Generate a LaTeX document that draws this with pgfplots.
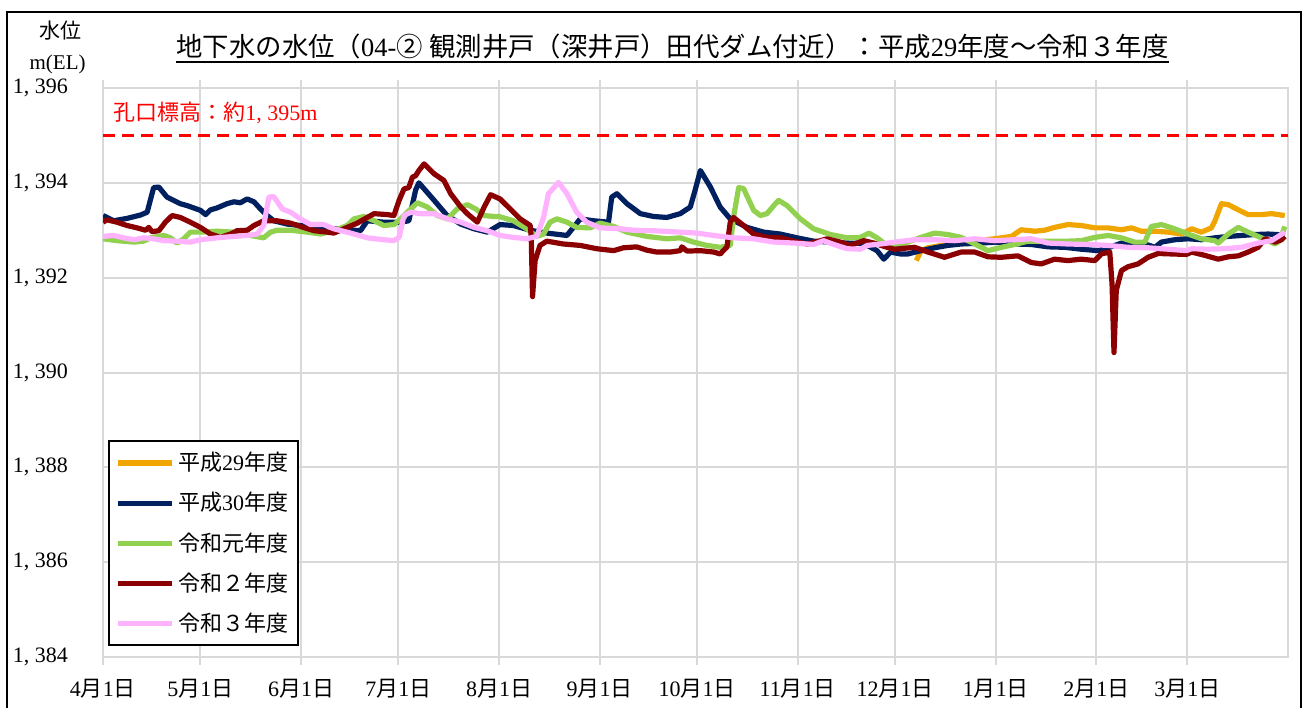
\documentclass[border=0pt]{standalone}
\usepackage{pgfplots}
\pgfplotsset{compat=1.18}
\usepackage{fontspec}
\setmainfont{Liberation Serif}
\newfontfamily\jp{Noto Sans CJK JP}
\definecolor{gridgray}{RGB}{217,217,217}
\definecolor{cOrange}{RGB}{240,165,0}
\definecolor{cNavy}{RGB}{0,32,96}
\definecolor{cGreen}{RGB}{146,208,80}
\definecolor{cDred}{RGB}{139,0,0}
\definecolor{cPink}{RGB}{255,179,255}
\newcommand{\md}[1]{#1{\jp 月}1{\jp 日}}
\begin{document}
\begin{tikzpicture}
\useasboundingbox (0,0) rectangle (656pt,353.5pt);
\draw[line width=1pt] (3.5pt,-5pt) -- (3.5pt,347.5pt) -- (650.5pt,347.5pt) -- (650.5pt,-5pt);
\node[anchor=base, inner sep=0pt, font=\fontsize{13.2pt}{15pt}\selectfont] (t) at (336.25pt,325pt)
 {{\jp 地下水の水位（}04-{\jp ②}\ {\jp 観測井戸（深井戸）田代ダム付近）：平成}29{\jp 年度～令和３年度}};
\draw[line width=0.8pt] ([yshift=-2.5pt]t.base west) -- ([yshift=-2.5pt]t.base east);
\node[anchor=east, inner sep=0pt, font=\fontsize{10.5pt}{12pt}\selectfont] at (41pt,338pt) {\jp 水位};
\node[anchor=east, inner sep=0pt, font=\fontsize{10.5pt}{12pt}\selectfont] at (43pt,321.5pt) {m(EL)};
\begin{axis}[
 at={(51.5pt,25pt)}, anchor=south west,
 scale only axis, width=592.5pt, height=284.5pt,
 xmin=0, xmax=365, ymin=1384, ymax=1396,
 xtick={0,30,61,91,122,153,183,214,244,275,306,334},
 xticklabels={\md{4},\md{5},\md{6},\md{7},\md{8},\md{9},\md{10},\md{11},\md{12},\md{1},\md{2},\md{3}},
 ytick={1384,1386,1388,1390,1392,1394,1396},
 yticklabels={{1,\ 384},{1,\ 386},{1,\ 388},{1,\ 390},{1,\ 392},{1,\ 394},{1,\ 396}},
 grid=major,
 major grid style={draw=gridgray, line width=1pt},
 axis line style={draw=gridgray, line width=1pt},
 xtick style={draw=gridgray, line width=1pt},
 ytick style={draw=none},
 tick align=outside, major tick length=4pt,
 x tick label style={font=\fontsize{11pt}{12pt}\selectfont, yshift=-3.5pt},
 y tick label style={font=\fontsize{11pt}{12pt}\selectfont, xshift=-10pt},
 legend style={at={(0.0042,0.381)}, anchor=north west, draw=black, line width=1pt,
   font=\fontsize{11pt}{13pt}\selectfont, inner xsep=3pt, inner ysep=3.5pt, row sep=5.3pt},
 legend cell align=left,
 legend image code/.code={\draw[#1] (0pt,0pt) -- (27pt,0pt);},
 every axis plot/.append style={line width=2.6pt, line join=round},
]
\addplot[cOrange] coordinates {(250.5,1392.36)(252,1392.57)(254.1,1392.63)(258.2,1392.68)(263.3,1392.73)(268.5,1392.78)(274.6,1392.82)(279.8,1392.87)(282.8,1393.01)(287,1392.98)(290,1393.0)(293.1,1393.06)(297.2,1393.12)(301.3,1393.1)(305.5,1393.05)(309.6,1393.05)(313.7,1393.01)(316.8,1393.05)(319.8,1392.98)(324,1392.98)(328.1,1392.96)(332.2,1392.92)(335.3,1393.03)(338.3,1392.96)(341.4,1393.05)(342.5,1393.2)(344.5,1393.56)(346.6,1393.54)(349.7,1393.43)(352.7,1393.33)(356.8,1393.33)(359.9,1393.35)(364,1393.31)};
\addlegendentry{{\jp 平成}29{\jp 年度}}
\addplot[cNavy] coordinates {(0,1393.31)(3.3,1393.2)(7.4,1393.25)(11.5,1393.32)(13.6,1393.38)(15.6,1393.9)(17.2,1393.91)(19.7,1393.7)(23.8,1393.56)(25.9,1393.52)(30,1393.42)(31.6,1393.33)(33.1,1393.43)(35.1,1393.47)(38.2,1393.56)(40.3,1393.6)(42.3,1393.58)(44.4,1393.66)(46.5,1393.6)(48.5,1393.45)(50.6,1393.31)(52.6,1393.2)(56.7,1393.13)(60.8,1393.1)(66,1393.05)(71.1,1393.03)(79.3,1392.99)(81.4,1393.2)(86.5,1393.17)(91.7,1393.17)(94.2,1393.2)(96.3,1393.85)(97.3,1394.0)(102,1393.63)(106,1393.31)(110.2,1393.13)(114.3,1393.03)(118.4,1392.96)(122.3,1393.12)(126.4,1393.1)(131.6,1393.0)(136.7,1392.94)(142.9,1392.89)(144.9,1393.06)(147,1393.24)(151.1,1393.2)(155.7,1393.17)(156.7,1393.7)(158.3,1393.77)(161.4,1393.56)(165.5,1393.35)(169.6,1393.29)(173.7,1393.27)(177.8,1393.35)(180.9,1393.49)(182.4,1393.85)(184,1394.26)(187.1,1393.91)(190.1,1393.49)(193.2,1393.24)(198.4,1393.06)(203.5,1392.96)(208.6,1392.92)(213.8,1392.84)(218.9,1392.77)(224.1,1392.75)(229.2,1392.73)(234.3,1392.72)(238.4,1392.57)(240.5,1392.39)(242.6,1392.54)(245.6,1392.5)(247.9,1392.5)(252,1392.57)(256.1,1392.63)(260.2,1392.68)(264.3,1392.71)(270.5,1392.73)(275.1,1392.75)(280.8,1392.71)(285.9,1392.7)(291.1,1392.65)(296.2,1392.64)(301.3,1392.6)(306.5,1392.57)(309.6,1392.63)(313.7,1392.73)(317.8,1392.72)(321.9,1392.69)(324,1392.64)(326,1392.75)(330.1,1392.8)(334.2,1392.82)(338.3,1392.8)(342.5,1392.84)(346.6,1392.87)(350.7,1392.89)(354.8,1392.91)(358.9,1392.92)(364,1392.9)};
\addlegendentry{{\jp 平成}30{\jp 年度}}
\addplot[cGreen] coordinates {(0,1392.82)(4.3,1392.78)(9.5,1392.75)(12.5,1392.77)(14.6,1392.84)(18.7,1392.89)(20.8,1392.84)(22.8,1392.73)(24.9,1392.82)(26.9,1392.96)(30,1392.96)(35.1,1392.98)(40.3,1392.96)(45.4,1392.89)(49.5,1392.84)(51.6,1392.96)(53.6,1393.0)(57.8,1393.0)(62.9,1392.96)(67,1392.92)(71.1,1392.99)(75.2,1393.1)(77.3,1393.24)(80.4,1393.29)(83.5,1393.2)(86.5,1393.1)(89.6,1393.12)(91.7,1393.24)(94.8,1393.45)(96.8,1393.58)(99.9,1393.49)(103,1393.31)(106.1,1393.24)(109.1,1393.45)(112.2,1393.54)(114.8,1393.45)(117.4,1393.31)(120.5,1393.29)(122,1393.29)(126.4,1393.2)(130.5,1393.03)(133.6,1392.87)(135.7,1392.92)(137.7,1393.17)(139.8,1393.24)(142.9,1393.17)(145.9,1393.06)(150.1,1393.05)(153.1,1393.15)(157.3,1393.08)(161.4,1392.96)(167.5,1392.87)(173.7,1392.82)(177.8,1392.84)(181.9,1392.75)(186,1392.68)(190.1,1392.64)(193.2,1392.68)(194.2,1393.27)(195.8,1393.9)(197.3,1393.88)(200.4,1393.42)(202.5,1393.31)(204.5,1393.35)(206.6,1393.52)(208.1,1393.63)(210.7,1393.52)(214.8,1393.24)(218.9,1393.03)(224.1,1392.91)(229.2,1392.84)(233.3,1392.85)(235.9,1392.94)(238.4,1392.84)(241.5,1392.68)(243.8,1392.64)(247.9,1392.75)(252,1392.85)(256.1,1392.94)(260.2,1392.91)(264.3,1392.85)(268.5,1392.71)(272.6,1392.57)(276.7,1392.64)(280.8,1392.7)(284.9,1392.77)(291.1,1392.77)(297.2,1392.77)(301.3,1392.78)(305.5,1392.85)(309.6,1392.89)(313.7,1392.84)(317.8,1392.75)(320.9,1392.75)(322.9,1393.08)(326,1393.12)(330.1,1393.03)(334.2,1392.92)(338.3,1392.82)(342.5,1392.78)(343.5,1392.73)(346.6,1392.92)(349.7,1393.06)(352.7,1392.96)(356.8,1392.84)(361,1392.71)(362.5,1392.78)(364,1393.08)};
\addlegendentry{\jp 令和元年度}
\addplot[cDred] coordinates {(0,1393.17)(1.2,1393.22)(4.3,1393.17)(7.4,1393.1)(10.5,1393.05)(13.1,1393.0)(14.1,1393.06)(15.1,1392.97)(17.2,1392.99)(19.2,1393.17)(21.3,1393.31)(23.8,1393.27)(26.9,1393.17)(30,1393.06)(33.1,1392.92)(36.2,1392.85)(39.3,1392.92)(41.3,1392.99)(44.4,1393.0)(46.5,1393.1)(49.5,1393.2)(53.6,1393.2)(57.8,1393.15)(60.8,1393.08)(65,1392.99)(69.1,1392.96)(71.1,1392.94)(75.2,1393.06)(78.3,1393.15)(81.4,1393.27)(83.5,1393.35)(87.6,1393.33)(89.6,1393.31)(91.2,1393.63)(92.7,1393.87)(94.2,1393.9)(95.3,1394.12)(96.3,1394.15)(97.3,1394.26)(98.9,1394.4)(102,1394.19)(105,1394.05)(107.1,1393.77)(110.2,1393.49)(112.2,1393.35)(115.3,1393.17)(117.4,1393.49)(119.4,1393.75)(122.3,1393.66)(125.4,1393.45)(128.5,1393.24)(131.6,1393.1)(131.9,1392.86)(132.3,1391.6)(133.1,1392.36)(134.6,1392.68)(136.7,1392.77)(141.8,1392.71)(147,1392.68)(152.1,1392.61)(157.3,1392.57)(160.3,1392.63)(164.4,1392.65)(167.5,1392.58)(170.6,1392.54)(174.7,1392.54)(177.8,1392.57)(178.3,1392.65)(179.9,1392.56)(184,1392.57)(188.1,1392.54)(190.1,1392.5)(192.2,1392.65)(193.2,1393.17)(194.2,1393.27)(197.3,1393.1)(200.4,1392.92)(204.5,1392.85)(208.6,1392.84)(212.8,1392.77)(216.9,1392.71)(221,1392.78)(223,1392.82)(227.1,1392.75)(230.2,1392.68)(234.3,1392.78)(237.4,1392.73)(241.5,1392.64)(243.8,1392.6)(250,1392.64)(254.1,1392.54)(259.2,1392.43)(264.3,1392.54)(268.5,1392.54)(272.6,1392.44)(276.7,1392.43)(281.8,1392.46)(285.9,1392.32)(289,1392.29)(293.1,1392.39)(297.2,1392.36)(301.3,1392.39)(305.5,1392.36)(307.5,1392.5)(310.1,1392.54)(310.8,1391.87)(311.4,1390.42)(312.1,1391.73)(313.7,1392.15)(315.7,1392.23)(318.8,1392.29)(321.9,1392.43)(325,1392.51)(329.1,1392.5)(333.7,1392.49)(335.3,1392.54)(339.4,1392.47)(343.5,1392.39)(346.6,1392.44)(349.7,1392.46)(352.7,1392.54)(355.8,1392.64)(357.9,1392.82)(361,1392.75)(363,1392.8)(364,1392.87)};
\addlegendentry{\jp 令和２年度}
\addplot[cPink] coordinates {(0,1392.87)(3.3,1392.89)(6.4,1392.84)(9.5,1392.8)(12.5,1392.84)(15.6,1392.82)(18.7,1392.78)(22.8,1392.77)(26.9,1392.75)(30,1392.8)(35.1,1392.84)(40.3,1392.87)(44.4,1392.89)(47.5,1392.92)(49.5,1393.1)(51.1,1393.7)(52.6,1393.71)(55.2,1393.45)(57.8,1393.38)(60.8,1393.24)(63.9,1393.12)(68,1393.12)(71.1,1393.03)(76.3,1392.94)(81.4,1392.84)(86.5,1392.8)(89.6,1392.78)(91.2,1392.85)(92.7,1393.31)(94.8,1393.38)(97.8,1393.35)(102,1393.35)(106.1,1393.24)(110.2,1393.17)(114.3,1393.06)(118.4,1392.99)(122.3,1392.89)(126.4,1392.85)(130.5,1392.82)(133.6,1392.87)(135.7,1393.27)(137.2,1393.77)(140.3,1394.01)(142.9,1393.77)(145.9,1393.38)(149,1393.17)(153.1,1393.05)(159.3,1393.03)(163.5,1393.0)(169.6,1392.99)(177.8,1392.96)(182.9,1392.94)(188.1,1392.89)(194.2,1392.84)(200.4,1392.82)(206.6,1392.75)(212.8,1392.73)(218.9,1392.7)(221.9,1392.78)(225.1,1392.7)(229.2,1392.61)(233.3,1392.6)(235.4,1392.68)(239.5,1392.71)(243.8,1392.75)(250,1392.8)(256.1,1392.8)(262.3,1392.78)(268.5,1392.82)(274.6,1392.78)(280.8,1392.8)(285.9,1392.82)(291.1,1392.73)(297.2,1392.71)(303.4,1392.7)(309.6,1392.68)(315.7,1392.64)(321.9,1392.63)(328.1,1392.6)(333.7,1392.57)(335.3,1392.61)(340.4,1392.6)(345.5,1392.61)(350.7,1392.64)(355.8,1392.73)(359.9,1392.78)(362,1392.87)(364,1392.96)};
\addlegendentry{\jp 令和３年度}
\addplot[red, line width=1.5pt, dash pattern=on 6pt off 3.5pt, forget plot] coordinates {(0,1395)(365,1395)};
\end{axis}
\node[anchor=west, inner sep=0pt, text=red, font=\fontsize{11pt}{12pt}\selectfont] at (56.5pt,297pt) {{\jp 孔口標高：約}1,\ 395m};
\end{tikzpicture}
\end{document}
